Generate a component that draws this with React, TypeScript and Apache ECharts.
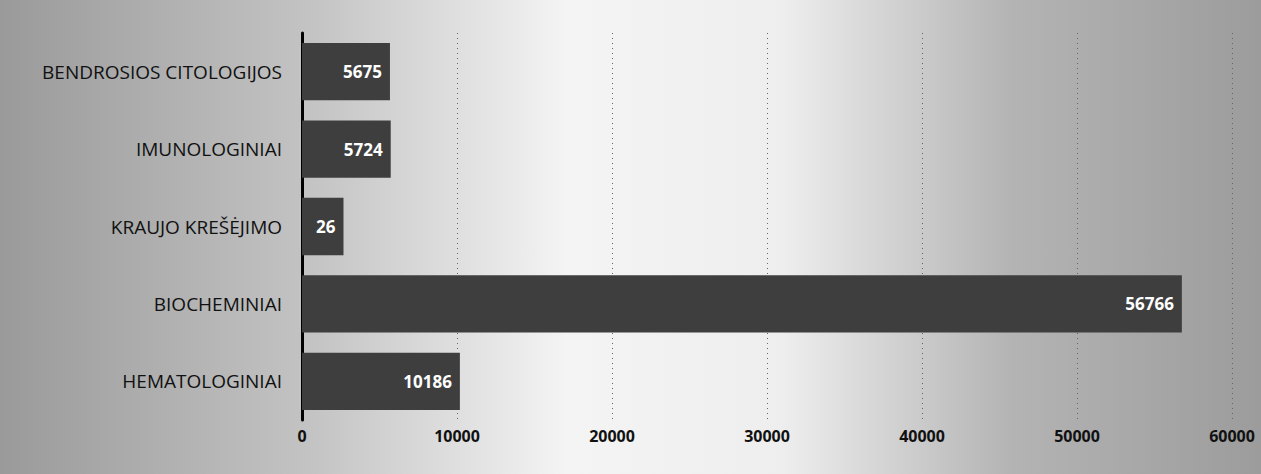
import React, { useEffect, useRef } from "react";
import * as echarts from "echarts";

const categories = [
  "HEMATOLOGINIAI",
  "BIOCHEMINIAI",
  "KRAUJO KREŠĖJIMO",
  "IMUNOLOGINIAI",
  "BENDROSIOS CITOLOGIJOS",
];
const values = [10186, 56766, 2676, 5724, 5675];
const xTicks = [0, 10000, 20000, 30000, 40000, 50000, 60000];

const FONT = "'Open Sans', sans-serif";

export default function App() {
  const ref = useRef<HTMLDivElement>(null);
  useEffect(() => {
    if (!ref.current) return;
    const chart = echarts.init(ref.current, null, { renderer: "svg" });
    chart.setOption({
      animation: false,
      graphic: [
        {
          type: "rect",
          z: -10,
          silent: true,
          shape: { x: 0, y: 0, width: 1261, height: 474 },
          style: {
            fill: new echarts.graphic.LinearGradient(0, 0, 1, 0, [
              { offset: 0, color: "#9a9a9a" },
              { offset: 0.25, color: "#c4c4c4" },
              { offset: 0.45, color: "#f4f4f4" },
              { offset: 0.62, color: "#eeeeee" },
              { offset: 0.8, color: "#b4b4b4" },
              { offset: 1, color: "#9c9c9c" },
            ]),
          },
        },
      ],
      grid: { left: 302, right: 29, top: 33, bottom: 54, containLabel: false },
      xAxis: {
        type: "value",
        min: xTicks[0],
        max: xTicks[xTicks.length - 1],
        interval: 10000,
        axisLine: { show: false },
        axisTick: { show: false },
        axisLabel: {
          color: "#111",
          fontSize: 16,
          fontWeight: "bold",
          fontFamily: FONT,
          margin: 8,
          formatter: (v: number) => String(v),
        },
        splitLine: { show: true, lineStyle: { color: "#666", type: [1, 4], width: 1 } },
      },
      yAxis: {
        type: "category",
        data: categories,
        axisLine: { show: true, lineStyle: { color: "#000", width: 3 } },
        axisTick: { show: false },
        axisLabel: {
          color: "#111",
          fontSize: 19,
          fontFamily: FONT,
          margin: 20,
        },
      },
      series: [
        {
          type: "bar",
          barWidth: "74%",
          data: values.map((v, i) =>
            i === 2
              ? {
                  value: v,
                  label: { width: 26, overflow: "truncate", ellipsis: "", position: "insideRight" },
                }
              : { value: v }
          ),
          itemStyle: { color: "#3e3e3e" },
          label: {
            show: true,
            position: "insideRight",
            color: "#fff",
            fontSize: 17,
            fontWeight: "bold",
            fontFamily: FONT,
            distance: 8,
          },
        },
      ],
    });
    return () => chart.dispose();
  }, []);
  return (
    <div
      ref={ref}
      style={{ width: 1261, height: 474, position: "absolute", left: 0, top: 0 }}
    />
  );
}
